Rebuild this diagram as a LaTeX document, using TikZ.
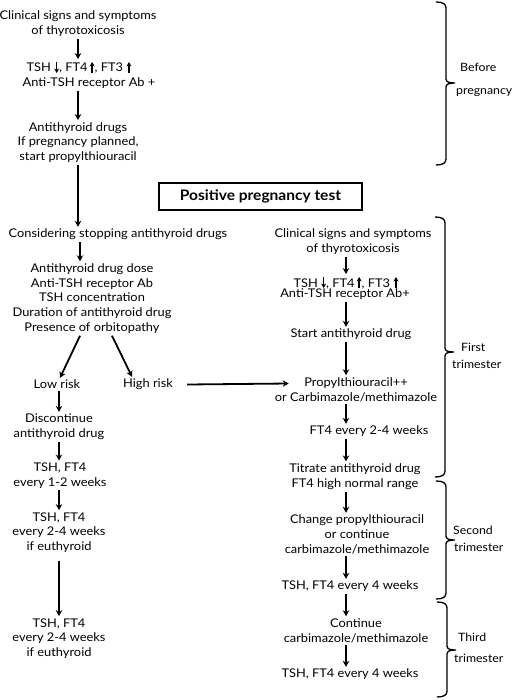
\documentclass[tikz,border=0pt]{standalone}
\usepackage{fontspec}
\setmainfont{Lato}[FakeStretch=1.07]
\usetikzlibrary{arrows.meta}
\newcommand{\dnarr}{\tikz[baseline=0pt]{\draw[line width=1.4pt,-{Stealth[length=4.5pt,width=5pt]}] (0pt,10pt) -- (0pt,-1pt);}}
\newcommand{\uparr}{\tikz[baseline=0pt]{\draw[line width=1.4pt,-{Stealth[length=4.5pt,width=5pt]}] (0pt,-1pt) -- (0pt,10pt);}}
\newcommand{\rbr}[4]{%
\draw[brc] ({#1-10},#2) .. controls ({#1-3},#2) and (#1,{#2+2}) .. (#1,{#2+6})
 -- (#1,{#4-4}) .. controls (#1,{#4-1}) and ({#1+3},#4) .. ({#1+9},#4)
 .. controls ({#1+3},#4) and (#1,{#4+1}) .. (#1,{#4+4})
 -- (#1,{#3-6}) .. controls (#1,{#3-2}) and ({#1-3},#3) .. ({#1-10},#3);}
\tikzset{
  txt/.style={align=center, inner sep=2pt, yshift=-1.5pt, font=\fontsize{12}{14.8}\selectfont},
  lbl/.style={anchor=west, inner sep=0pt, font=\fontsize{11.5}{14.8}\selectfont},
  arr/.style={line width=1.8pt, -{Stealth[length=6pt,width=6.5pt]}},
  brc/.style={line width=1.3pt},
  boxed/.style={draw, line width=2.5pt, minimum width=203pt, minimum height=27pt, inner sep=0pt,
    font=\fontsize{14.5}{16}\selectfont\bfseries}
}
\begin{document}
\begin{tikzpicture}[x=1pt,y=-1pt]
\useasboundingbox (0,0) rectangle (511,700);
% left column
\node[txt] (L1) at (78,22) {Clinical signs and symptoms\\of thyrotoxicosis};
\node[txt] (L2a) at (79,66) {TSH \dnarr, FT4\,\uparr, FT3 \uparr};
\node[txt] (L2b) at (89,82) {Anti-TSH receptor Ab +};
\node[txt] (L3) at (78,141) {Antithyroid drugs\\If pregnancy planned,\\start propylthiouracil};
\node[boxed] (P) at (260.5,196.5) {Positive pregnancy test};
\node[txt] (C) at (118,233) {Considering stopping antithyroid drugs};
\node[txt] (F) at (92,297) {Antithyroid drug dose\\Anti-TSH receptor Ab\\TSH concentration\\Duration of antithyroid drug\\Presence of orbitopathy};
\node[txt] (LR) at (57,383) {Low risk};
\node[txt] (HR) at (148,383) {High risk};
\node[txt] (D) at (59,425.5) {Discontinue\\antithyroid drug};
\node[txt] (T1) at (60,474) {TSH, FT4\\every 1-2 weeks};
\node[txt] (T2) at (59,531) {TSH, FT4\\every 2-4 weeks\\if euthyroid};
\node[txt] (T3) at (59,637) {TSH, FT4\\every 2-4 weeks\\if euthyroid};
% right column
\node[txt] (R1) at (353,240.5) {Clinical signs and symptoms\\of thyrotoxicosis};
\node[txt] (R2a) at (346,281) {TSH \dnarr, FT4\,\uparr, FT3 \uparr};
\node[txt] (R2b) at (345,293) {Anti-TSH receptor Ab+};
\node[txt] (R3) at (351,333) {Start antithyroid drug};
\node[txt] (R4) at (356,388) {Propylthiouracil++\\or Carbimazole/methimazole};
\node[txt] (R5) at (369,430) {FT4 every 2-4 weeks};
\node[txt] (R6) at (355,475) {Titrate antithyroid drug\\FT4 high normal range};
\node[txt] (R7) at (357,533) {Change propylthiouracil\\or continue\\carbimazole/methimazole};
\node[txt] (R8) at (350,585) {TSH, FT4 every 4 weeks};
\node[txt] (R9) at (356,629) {Continue\\carbimazole/methimazole};
\node[txt] (R10) at (350,673) {TSH, FT4 every 4 weeks};
% column axes
\coordinate (xl) at (78,0);
\coordinate (xf) at (80,0);
\coordinate (xd) at (59,0);
\coordinate (xr) at (346,0);
% left arrows
\draw[arr] (L1.south -| xl) -- (L2a.north -| xl);
\draw[arr] (L2b.south -| xl) -- (L3.north -| xl);
\draw[arr] (L3.south -| xl) -- (C.north -| xl);
\draw[arr] (C.south -| xf) -- (F.north -| xf);
\draw[arr] ([xshift=-12pt]F.south) -- ([xshift=3pt]LR.north);
\draw[arr] ([xshift=20pt]F.south) -- ([xshift=-16pt]HR.north);
\draw[arr] (LR.south -| xd) -- (D.north -| xd);
\draw[arr] (D.south -| xd) -- (T1.north -| xd);
\draw[arr] (T1.south -| xd) -- (T2.north -| xd);
\draw[arr] ([yshift=-6pt]T2.south -| xd) -- (T3.north -| xd);
\draw[arr] ([xshift=12pt]HR.east) -- ([xshift=16pt,yshift=1pt]R4.west |- HR.east);
% right arrows
\draw[arr] (R1.south -| xr) -- (R2a.north -| xr);
\draw[arr] (R2b.south -| xr) -- (R3.north -| xr);
\draw[arr] (R3.south -| xr) -- (R4.north -| xr);
\draw[arr] (R4.south -| xr) -- (R5.north -| xr);
\draw[arr] (R5.south -| xr) -- (R6.north -| xr);
\draw[arr] (R6.south -| xr) -- (R7.north -| xr);
\draw[arr] (R7.south -| xr) -- (R8.north -| xr);
\draw[arr] (R8.south -| xr) -- (R9.north -| xr);
\draw[arr] (R9.south -| xr) -- (R10.north -| xr);
% braces
\rbr{446}{2}{165}{83}
\rbr{445}{217}{477}{352}
\rbr{446}{481}{599}{540}
\rbr{447}{602}{697}{650}
\node[lbl] (b1) at (460,67) {Before};
\node[lbl] (b2) at (456,93) {pregnancy};
\node[lbl] (t1a) at (461,347) {First};
\node[lbl] (t1b) at (452,364) {trimester};
\node[lbl] (t2a) at (453,530) {Second};
\node[lbl] (t2b) at (454,547) {trimester};
\node[lbl] (t3a) at (458,637) {Third};
\node[lbl] (t3b) at (454,658) {trimester};
\end{tikzpicture}
\end{document}
